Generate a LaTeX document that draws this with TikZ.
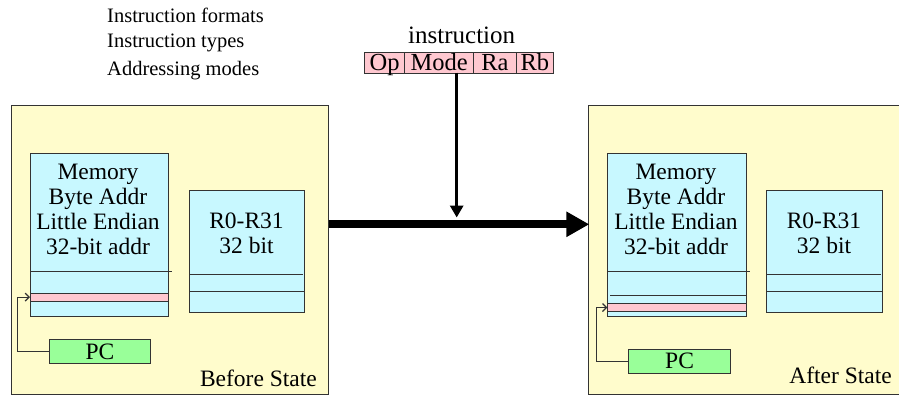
\documentclass[tikz,border=0pt]{standalone}
\usepackage{fontspec}
\setmainfont{Liberation Serif}
\usetikzlibrary{arrows.meta}
\definecolor{yellowbg}{HTML}{FFFCCC}
\definecolor{cyanbx}{HTML}{C8F8FF}
\definecolor{pinkbx}{HTML}{FFC8D0}
\definecolor{greenbx}{HTML}{99FF99}
\tikzset{
  panel/.style={draw=black!80, line width=0.8pt, fill=yellowbg, anchor=north west, inner sep=0pt},
  membox/.style={draw=black!80, line width=0.8pt, fill=cyanbx, anchor=north west, inner sep=0pt},
  band/.style={draw=black!80, line width=0.8pt, fill=pinkbx, anchor=north west, inner sep=0pt},
  pcbox/.style={draw=black!80, line width=0.8pt, fill=greenbx, anchor=north west, inner sep=0pt, font=\fontsize{23.5}{25}\selectfont},
  field/.style={draw=black!80, line width=0.8pt, fill=pinkbx, anchor=north west, inner sep=0pt, minimum height=21pt},
  fieldtxt/.style={inner sep=0pt, anchor=base, font=\fontsize{24.5}{25}\selectfont},
  txt/.style={inner sep=0pt, font=\fontsize{23.5}{25.2}\selectfont, align=center},
  toptxt/.style={inner sep=0pt, font=\fontsize{20.5}{28}\selectfont, anchor=west},
  rowline/.style={draw=black!80, line width=0.8pt},
  pcarrow/.style={draw=black!80, line width=0.9pt, -{Straight Barb[length=4pt,width=8pt,line width=1.2pt]}},
  thinarr/.style={line width=3pt, -{Triangle[length=12pt,width=13pt]}},
  thickarr/.style={line width=8pt, -{Triangle[length=23pt,width=24pt]}},
}
\begin{document}
\begin{tikzpicture}[x=1pt,y=-1pt]
\useasboundingbox (0,0) rectangle (899,402);
% top-left texts
\node[toptxt] (t1) at (107,15) {Instruction formats};
\node[toptxt] (t2) at (107,43) {Instruction types};
\node[toptxt] (t3) at (107,71) {Addressing modes};
% instruction
\node[txt, font=\fontsize{25}{25}\selectfont] (instrlbl) at (461.7,35) {instruction};
\node[field, minimum width=40pt] (op) at (364.3,51.7) {};
\node[field, minimum width=69pt] (mode) at (404.3,51.7) {};
\node[field, minimum width=42.4pt] (ra) at (473.3,51.7) {};
\node[field, minimum width=37.6pt] (rb) at (515.7,51.7) {};
\node[fieldtxt] (optxt) at ([yshift=2.7pt]op.south) {Op};
\node[fieldtxt] (modetxt) at ([yshift=2.7pt]mode.south) {Mode};
\node[fieldtxt] (ratxt) at ([yshift=2.7pt]ra.south) {Ra};
\node[fieldtxt] (rbtxt) at ([yshift=2.7pt]rb.south) {Rb};
% panels
\node[panel, minimum width=317pt, minimum height=289pt] (before) at (11,105) {};
\node[panel, minimum width=320pt, minimum height=289pt] (after) at (588.3,105) {};
% arrows between
\coordinate (instrout) at (456.7,72.7);
\coordinate (tip) at (456.7,217.5);
\coordinate (mid) at (456.7,224.3);
\draw[thinarr] (instrout) -- (tip);
\draw[thickarr] (before.east |- mid) -- ([xshift=1pt]after.west |- mid);
% ---- before state
\node[membox, minimum width=138pt, minimum height=163pt] (mem1) at (30,152.7) {};
\node[txt] (mem1txt) at (98,209.3) {Memory\\Byte Addr\\Little Endian\\32-bit addr};
\draw[rowline] (mem1.west |- 0,271.7) -- ([xshift=3pt]mem1.east |- 0,271.7);
\node[band, minimum width=138pt, minimum height=8pt] (band1) at (30,292.7) {};
\node[membox, minimum width=115.6pt, minimum height=121.7pt] (reg1) at (188.7,190) {};
\node[txt] (reg1txt) at (246.5,233) {R0-R31\\32 bit};
\draw[rowline] ([xshift=1.3pt]reg1.west |- 0,274.3) -- ([xshift=-2.3pt]reg1.east |- 0,274.3);
\draw[rowline] ([xshift=1.3pt]reg1.west |- 0,291.7) -- (reg1.east |- 0,291.7);
\node[pcbox, minimum width=101pt, minimum height=24pt] (pc1) at (49,339.3) {PC};
\draw[pcarrow] (pc1.west) -- ++(-31.3,0) |- (band1.west);
\node[txt, anchor=east] (st1) at (317,378.5) {Before State};
% ---- after state
\node[membox, minimum width=138.4pt, minimum height=163pt] (mem2) at (607.3,152.7) {};
\node[txt] (mem2txt) at (676,209.3) {Memory\\Byte Addr\\Little Endian\\32-bit addr};
\draw[rowline] (mem2.west |- 0,271.7) -- ([xshift=3pt]mem2.east |- 0,271.7);
\draw[rowline] ([xshift=2.7pt]mem2.west |- 0,295) -- (mem2.east |- 0,295);
\node[band, minimum width=138.4pt, minimum height=7.7pt] (band2) at (607.3,303.3) {};
\node[membox, minimum width=116pt, minimum height=121.7pt] (reg2) at (766,190) {};
\node[txt] (reg2txt) at (824,233) {R0-R31\\32 bit};
\draw[rowline] ([xshift=1.3pt]reg2.west |- 0,274.3) -- ([xshift=-2.3pt]reg2.east |- 0,274.3);
\draw[rowline] ([xshift=1.3pt]reg2.west |- 0,291.7) -- (reg2.east |- 0,291.7);
\node[pcbox, minimum width=101.7pt, minimum height=24pt] (pc2) at (628.3,348.7) {PC};
\draw[pcarrow] (pc2.west) -- ++(-31.6,0) |- (band2.west);
\node[txt, anchor=east] (st2) at (892,375.5) {After State};
\end{tikzpicture}
\end{document}
